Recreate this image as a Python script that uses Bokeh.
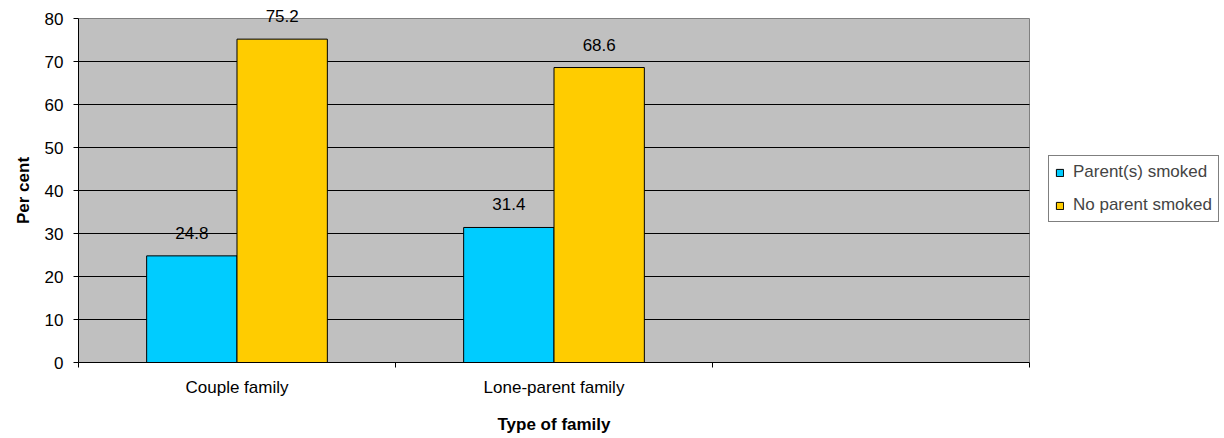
from bokeh.plotting import figure
from bokeh.models import (Range1d, FixedTicker, ColumnDataSource, Legend, LegendItem,
                          LabelSet, LinearAxis)
from bokeh.core.properties import value
from bokeh.embed import file_html
from bokeh.resources import INLINE

categories = ["Couple family", "Lone-parent family", ""]
parent_smoked = [24.8, 31.4]
no_parent_smoked = [75.2, 68.6]
series_names = ["Parent(s) smoked", "No parent smoked"]
y_ticks = [0, 10, 20, 30, 40, 50, 60, 70, 80]
x_title = "Type of family"
y_title = "Per cent"
colors = ["#00CCFF", "#FFCC00"]

FONT = "Liberation Sans"
FS = "17px"
bar_w = 0.285

W, H = 1224, 438
LEFT, BOTTOM = 78, 76
PLOT_W, PLOT_H = 951, 344          # size of the grey plot area in pixels
n_cat = len(categories)
y_max = y_ticks[-1]
frame_w = W - LEFT
frame_h = H - BOTTOM
x_end = n_cat * frame_w / PLOT_W
y_end = y_max * frame_h / PLOT_H

p = figure(width=W, height=H, output_backend="svg", toolbar_location=None,
           x_range=Range1d(0, x_end), y_range=Range1d(0, y_end),
           min_border_left=LEFT, min_border_right=0, min_border_top=0,
           min_border_bottom=BOTTOM)
p.background_fill_color = "white"
p.border_fill_color = "white"
p.outline_line_color = None

# grey plot area
p.quad(left=0, right=n_cat, bottom=0, top=y_max, fill_color="#C0C0C0",
       line_color="#808080", line_width=1, level="image")
# horizontal grid lines at tick values, limited to the plot area
p.segment(x0=[0] * (len(y_ticks) - 2), x1=[n_cat] * (len(y_ticks) - 2),
          y0=y_ticks[1:-1], y1=y_ticks[1:-1], line_color="black", line_width=1,
          level="underlay")

idx = [i + 0.5 for i in range(len(parent_smoked))]
src1 = ColumnDataSource(dict(x=[c - bar_w / 2 for c in idx], top=parent_smoked,
                             lab=[f"{v:.1f}" for v in parent_smoked]))
src2 = ColumnDataSource(dict(x=[c + bar_w / 2 for c in idx], top=no_parent_smoked,
                             lab=[f"{v:.1f}" for v in no_parent_smoked]))
r1 = p.vbar(x="x", top="top", bottom=0, width=bar_w, source=src1,
            fill_color=colors[0], line_color="black", line_width=1)
r2 = p.vbar(x="x", top="top", bottom=0, width=bar_w, source=src2,
            fill_color=colors[1], line_color="black", line_width=1)

for s in (src1, src2):
    p.add_layout(LabelSet(x="x", y="top", text="lab", source=s, text_align="center",
                          text_baseline="alphabetic", y_offset=17,
                          text_font=value(FONT), text_font_size=FS, text_color="black"))

# x axis: labels centred in categories, ticks on category boundaries
xax = p.xaxis[0]
xax.ticker = FixedTicker(ticks=[i + 0.5 for i in range(n_cat)],
                         minor_ticks=list(range(n_cat + 1)))
xax.major_label_overrides = {i + 0.5: c for i, c in enumerate(categories)}
xax.bounds = (0, n_cat)
xax.major_tick_out = 0
xax.major_tick_in = 0
xax.minor_tick_out = 5
xax.minor_tick_in = 0
xax.minor_tick_line_color = "black"
xax.axis_line_color = "black"
xax.major_label_standoff = 10

yax = p.yaxis[0]
yax.ticker = FixedTicker(ticks=y_ticks)
yax.bounds = (0, y_max)
yax.major_tick_out = 5
yax.major_tick_in = 0
yax.minor_tick_line_color = None
yax.axis_line_color = "black"
yax.major_tick_line_color = "black"
yax.major_label_standoff = 10

for ax in (xax, yax):
    ax.major_label_text_font = FONT
    ax.major_label_text_font_size = FS
    ax.major_label_text_color = "black"

# axis titles centred on the grey plot area (drawn as extra tickless axes)
xt = LinearAxis(ticker=FixedTicker(ticks=[n_cat / 2]),
                major_label_overrides={n_cat / 2: x_title},
                axis_line_color=None, major_tick_line_color=None,
                minor_tick_line_color=None, major_label_standoff=9,
                major_label_text_font=FONT, major_label_text_font_size=FS,
                major_label_text_font_style="bold", major_label_text_color="black")
p.add_layout(xt, "below")
yt = LinearAxis(ticker=FixedTicker(ticks=[y_max / 2]),
                major_label_overrides={y_max / 2: y_title},
                major_label_orientation="vertical",
                axis_line_color=None, major_tick_line_color=None,
                minor_tick_line_color=None, major_label_standoff=3,
                major_label_text_font=FONT, major_label_text_font_size=FS,
                major_label_text_font_style="bold", major_label_text_color="black")
p.add_layout(yt, "left")

p.xgrid.grid_line_color = None
p.ygrid.grid_line_color = None

legend = Legend(items=[LegendItem(label=series_names[0], renderers=[r1]),
                       LegendItem(label=series_names[1], renderers=[r2])],
                location=(1048 - LEFT, H - BOTTOM - 222), border_line_color="black",
                border_line_width=1, background_fill_color="white",
                glyph_width=9, glyph_height=9,
                label_text_font=FONT, label_text_font_size=FS,
                label_standoff=9, spacing=13, padding=6, margin=0)
p.add_layout(legend, "center")

open("out.html", "w").write(file_html(p, INLINE))
